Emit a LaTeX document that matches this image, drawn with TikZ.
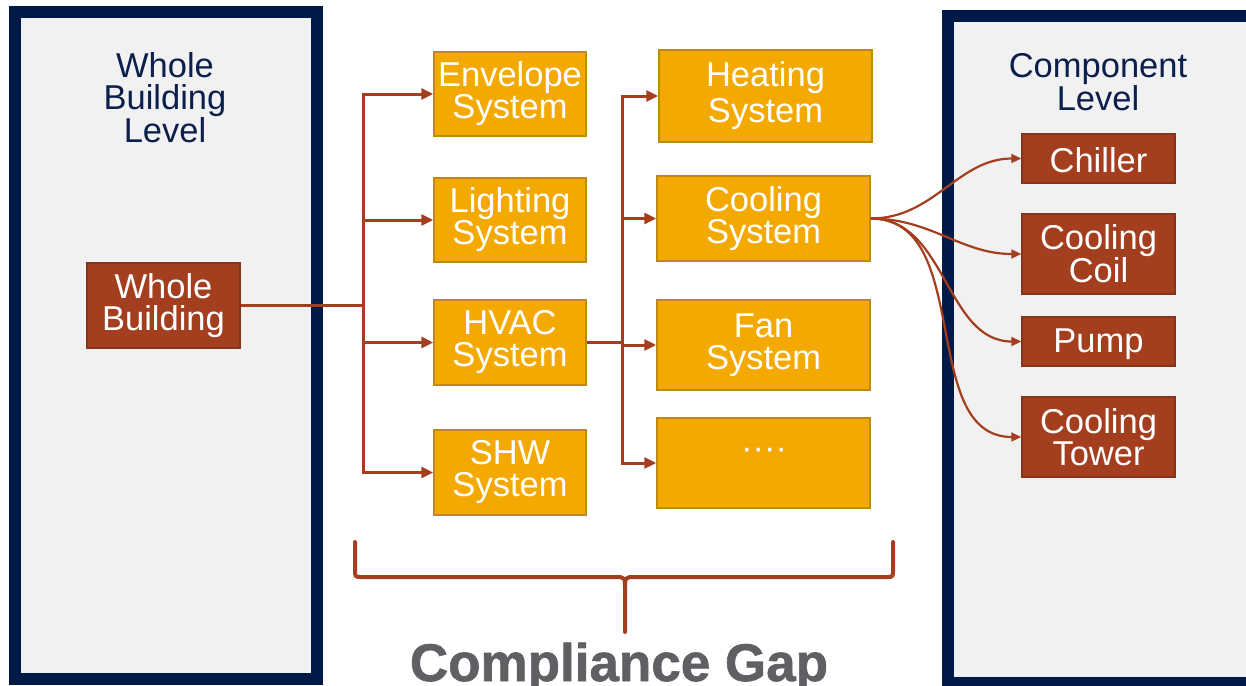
\documentclass[tikz,border=0pt]{standalone}
\usepackage{fontspec}
\setmainfont{Liberation Sans}
\newfontfamily\gapfont[FakeBold=1.2]{Liberation Sans Bold}
\usetikzlibrary{arrows.meta,positioning,calc}
\usepackage{xcolor}

\definecolor{navy}{HTML}{001A48}
\definecolor{navytext}{HTML}{0B1F4D}
\definecolor{panelgray}{HTML}{F1F1F1}
\definecolor{sysorange}{HTML}{F3A900}
\definecolor{sysedge}{HTML}{BE8A10}
\definecolor{rust}{HTML}{A33F1F}
\definecolor{rustedge}{HTML}{86331A}
\definecolor{gapgray}{HTML}{5F6064}

\newcommand{\diagfont}{\fontsize{34.5}{32}\selectfont}

\begin{document}
\begin{tikzpicture}[
			x=1pt, y=-1pt,
			textdrop/.style={execute at begin node={\rule{0pt}{29pt}}},
			levelbox/.style={line width=12pt, draw=navy, fill=panelgray},
			leveltext/.style={text=navytext, align=center, inner sep=0pt, font=\diagfont, textdrop},
			sysbox/.style={draw=sysedge, fill=sysorange, line width=1.5pt, text=white,
				align=center, inner sep=0pt, font=\diagfont, textdrop},
			compbox/.style={draw=rustedge, fill=rust, line width=1.5pt, text=white,
				align=center, inner sep=0pt, font=\diagfont, textdrop},
			link/.style={draw=rust, line width=3pt},
			tip/.style={-{Triangle[length=12pt,width=11pt]}},
			spread/.style={draw=rust, line width=2.2pt, -{Triangle[length=10pt,width=9pt]}},
			gapbrace/.style={draw=rust, line width=4pt, line cap=round, line join=round},
			gaptext/.style={text=gapgray, inner sep=0pt, font=\fontsize{53}{53}\gapfont}
			]
			\clip (0,0) rectangle (1246,685);
			
			% the two level panels
			\draw[levelbox] (15,12) rectangle (317,679);
			\draw[levelbox] (947.5,16) rectangle (1252,683);
			\node[leveltext] (wblevel) at (165,97.5) {Whole\\Building\\Level};
			\node[leveltext] (cplevel) at (1098,82) {Component\\Level};
			
			\node[compbox, minimum width=153pt, minimum height=85pt] (wb) at (163.5,305.5) {Whole\\Building};
			
			% systems
			\node[sysbox, minimum width=152pt, minimum height=84pt] (env) at (510,94) {Envelope\\System};
			\node[sysbox, minimum width=152pt, minimum height=84pt] (light) at (510,220) {Lighting\\System};
			\node[sysbox, minimum width=152pt, minimum height=85pt] (hvac) at (510,342.5) {HVAC\\System};
			\node[sysbox, minimum width=152pt, minimum height=85pt] (shw) at (510,472.5) {SHW\\System};
			
			\node[sysbox, minimum width=213pt, minimum height=92pt,
				font=\fontsize{34.5}{36}\selectfont] (heat) at (765.5,96) {Heating\\System};
			\node[sysbox, minimum width=213pt, minimum height=85pt] (cool) at (763.5,218.5) {Cooling\\System};
			\node[sysbox, minimum width=213pt, minimum height=90pt] (fan) at (763.5,345) {Fan\\System};
			\node[sysbox, minimum width=213pt, minimum height=90pt] (more) at (763.5,463) {};
			\node[text=white, inner sep=0pt, font=\diagfont] (dots) at (764,454) {····};
			
			% components
			\node[compbox, minimum width=153pt, minimum height=49pt] (chiller) at (1098.5,158.5) {Chiller};
			\node[compbox, minimum width=153pt, minimum height=80pt] (coil) at (1098.5,254) {Cooling\\Coil};
			\node[compbox, minimum width=153pt, minimum height=49pt] (pump) at (1098.5,341.5) {Pump};
			\node[compbox, minimum width=153pt, minimum height=80pt] (tower) at (1098.5,437) {Cooling\\Tower};
			
			% tree connectors
			\coordinate (j1) at (363.5,0);
			\coordinate (j2) at (622,0);
			\draw[link] (wb.east) -- (wb.east -| j1);
			\draw[link, line cap=rect] (j1 |- env.west) -- (j1 |- shw.west);
			\foreach \n in {env,light,hvac,shw}
				\draw[link,tip] (j1 |- \n.west) -- (\n.west);
			
			\draw[link] (hvac.east) -- (hvac.east -| j2);
			\draw[link, line cap=rect] (j2 |- heat.west) -- (j2 |- more.west);
			\foreach \n in {heat,cool,fan,more}
				\draw[link,tip] (j2 |- \n.west) -- (\n.west);
			
			\foreach \n in {chiller,coil,pump,tower}
				\draw[spread] (cool.east) to[out=0,in=180] (\n.west);
			
			% brace
			\draw[gapbrace] (355,542) -- (355,570) .. controls (355,577) .. (362,577) -- (615,577)
				.. controls (625,577) .. (625,590) -- (625,632);
			\draw[gapbrace] (893,542) -- (893,570) .. controls (893,577) .. (886,577) -- (635,577)
				.. controls (625,577) .. (625,590);
			\node[gaptext, anchor=base] (gap) at (619,681) {Compliance Gap};
		\end{tikzpicture}
\end{document}
